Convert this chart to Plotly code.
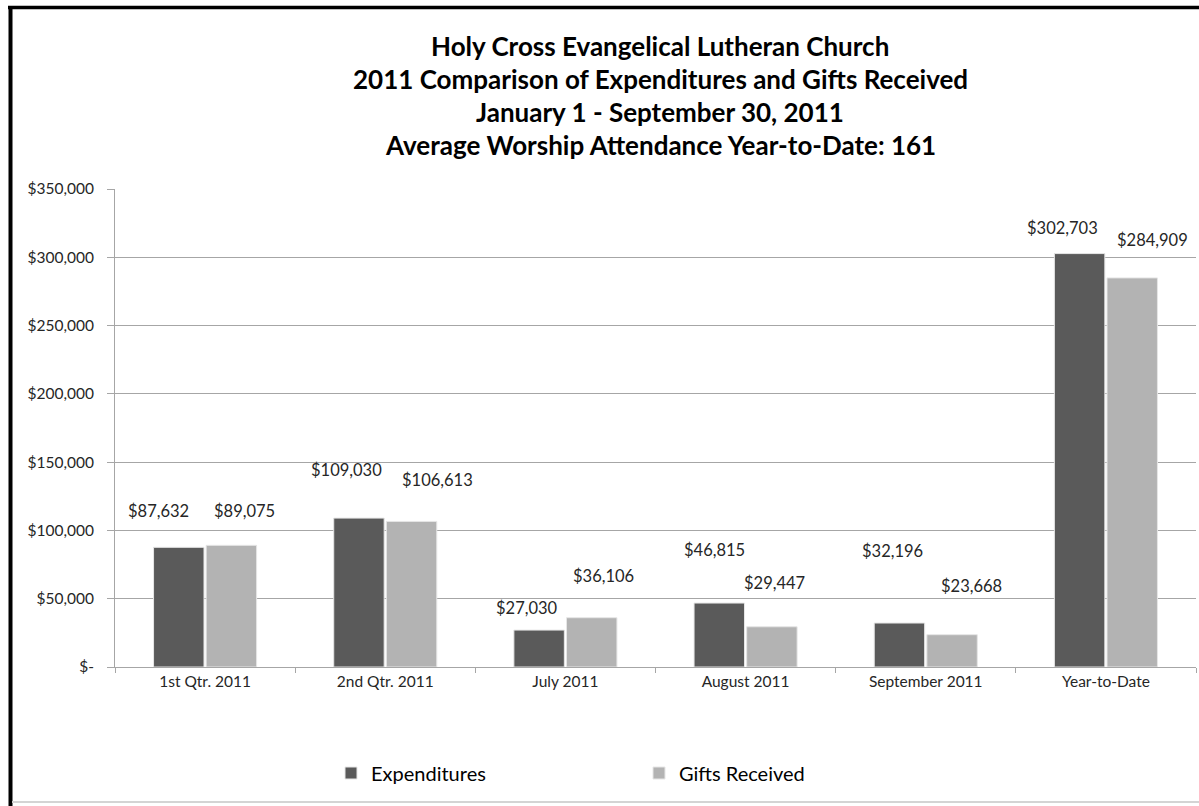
import plotly.graph_objects as go

categories = ["1st Qtr. 2011", "2nd Qtr. 2011", "July 2011", "August 2011", "September 2011", "Year-to-Date"]
expenditures = [87632, 109030, 27030, 46815, 32196, 302703]
gifts = [89075, 106613, 36106, 29447, 23668, 284909]
series_names = ["Expenditures", "Gifts Received"]
y_tickvals = [0, 50000, 100000, 150000, 200000, 250000, 300000, 350000]
y_ticktext = ["$-", "$50,000", "$100,000", "$150,000", "$200,000", "$250,000", "$300,000", "$350,000"]
title_lines = [
    "Holy Cross Evangelical Lutheran Church",
    "2011 Comparison of Expenditures and Gifts Received",
    "January 1 - September 30, 2011",
    "Average Worship Attendance Year-to-Date: 161",
]

# label placement offsets (pixels), styling only
exp_label_dy = [36, 48, 22, 53, 72, 26]
gift_label_dy = [34, 41, 42, 44, 49, 38]
exp_label_dx = [-20, -12, -12, -5, -7, -17]
gift_label_dx = [13, 26, 12, 3, 19, 20]

W, H = 1199, 806
L, R, T, B = 115, 3, 189, 139
PW = W - L - R
PH = H - T - B

def px_x(p):
    return (p - L) / PW

def px_y(p):
    return (H - B - p) / PH

DARK = "#5a5a5a"
LIGHT = "#b3b3b3"
FONT = "Lato"
BAR_W = 0.28
GAP = 0.006

fig = go.Figure()
fig.add_trace(go.Bar(x=categories, y=expenditures, name=series_names[0],
                     marker=dict(color=DARK, line=dict(color="#e6e6e6", width=1)),
                     width=BAR_W, offset=-BAR_W - GAP, hoverinfo="x+y"))
fig.add_trace(go.Bar(x=categories, y=gifts, name=series_names[1],
                     marker=dict(color=LIGHT, line=dict(color="#e6e6e6", width=1)),
                     width=BAR_W, offset=GAP, hoverinfo="x+y"))

annotations = []
for i, (v, dy, dx) in enumerate(zip(expenditures, exp_label_dy, exp_label_dx)):
    annotations.append(dict(x=i - BAR_W / 2 - GAP, y=v, xref="x", yref="y",
                            text="${:,}".format(v), showarrow=False, yshift=dy, xshift=dx,
                            font=dict(family=FONT, size=16.5, color="#262626")))
for i, (v, dy, dx) in enumerate(zip(gifts, gift_label_dy, gift_label_dx)):
    annotations.append(dict(x=i + BAR_W / 2 + GAP, y=v, xref="x", yref="y",
                            text="${:,}".format(v), showarrow=False, yshift=dy, xshift=dx,
                            font=dict(family=FONT, size=16.5, color="#262626")))

title_y = [46, 79, 112, 145]
for line, py in zip(title_lines, title_y):
    annotations.append(dict(x=px_x(660), y=px_y(py), xref="paper", yref="paper",
                            text="<b>" + line + "</b>", showarrow=False,
                            xanchor="center", yanchor="middle",
                            font=dict(family=FONT, size=26, color="#000000")))

shapes = [
    dict(type="line", xref="paper", yref="paper", x0=px_x(8), x1=px_x(1199),
         y0=px_y(7.5), y1=px_y(7.5), line=dict(color="#000000", width=3.5)),
    dict(type="line", xref="paper", yref="paper", x0=px_x(10.5), x1=px_x(10.5),
         y0=px_y(6), y1=px_y(806), line=dict(color="#000000", width=4)),
    dict(type="line", xref="paper", yref="paper", x0=px_x(12), x1=px_x(1199),
         y0=px_y(802), y1=px_y(802), line=dict(color="#d4d4d4", width=2)),
]

fig.update_layout(
    width=W, height=H,
    margin=dict(l=L, r=R, t=T, b=B, autoexpand=False),
    paper_bgcolor="white", plot_bgcolor="white",
    barmode="group",
    showlegend=True,
    legend=dict(orientation="h", x=px_x(331), y=px_y(773), xanchor="left", yanchor="middle",
                font=dict(family=FONT, size=20, color="#000000"),
                entrywidth=263, entrywidthmode="pixels", itemwidth=30,
                bgcolor="rgba(0,0,0,0)"),
    annotations=annotations,
    shapes=shapes,
    font=dict(family=FONT),
)
fig.update_yaxes(range=[0, 350000], tickvals=y_tickvals, ticktext=y_ticktext,
                 showgrid=True, gridcolor="#a6a6a6", gridwidth=1,
                 showline=True, linecolor="#a6a6a6", linewidth=1,
                 ticks="outside", ticklen=7, tickcolor="#a6a6a6",
                 ticklabelstandoff=10,
                 tickfont=dict(family=FONT, size=15.5, color="#262626"),
                 zeroline=False, fixedrange=True)
fig.update_xaxes(showline=True, linecolor="#a6a6a6", linewidth=1,
                 ticks="outside", tickson="boundaries", ticklen=5, tickcolor="#a6a6a6",
                 tickfont=dict(family=FONT, size=15.5, color="#262626"),
                 showgrid=False, fixedrange=True)

fig.write_html("out.html", config={"displayModeBar": False},
               post_script="document.body.style.margin='0';document.body.style.overflow='hidden';")
